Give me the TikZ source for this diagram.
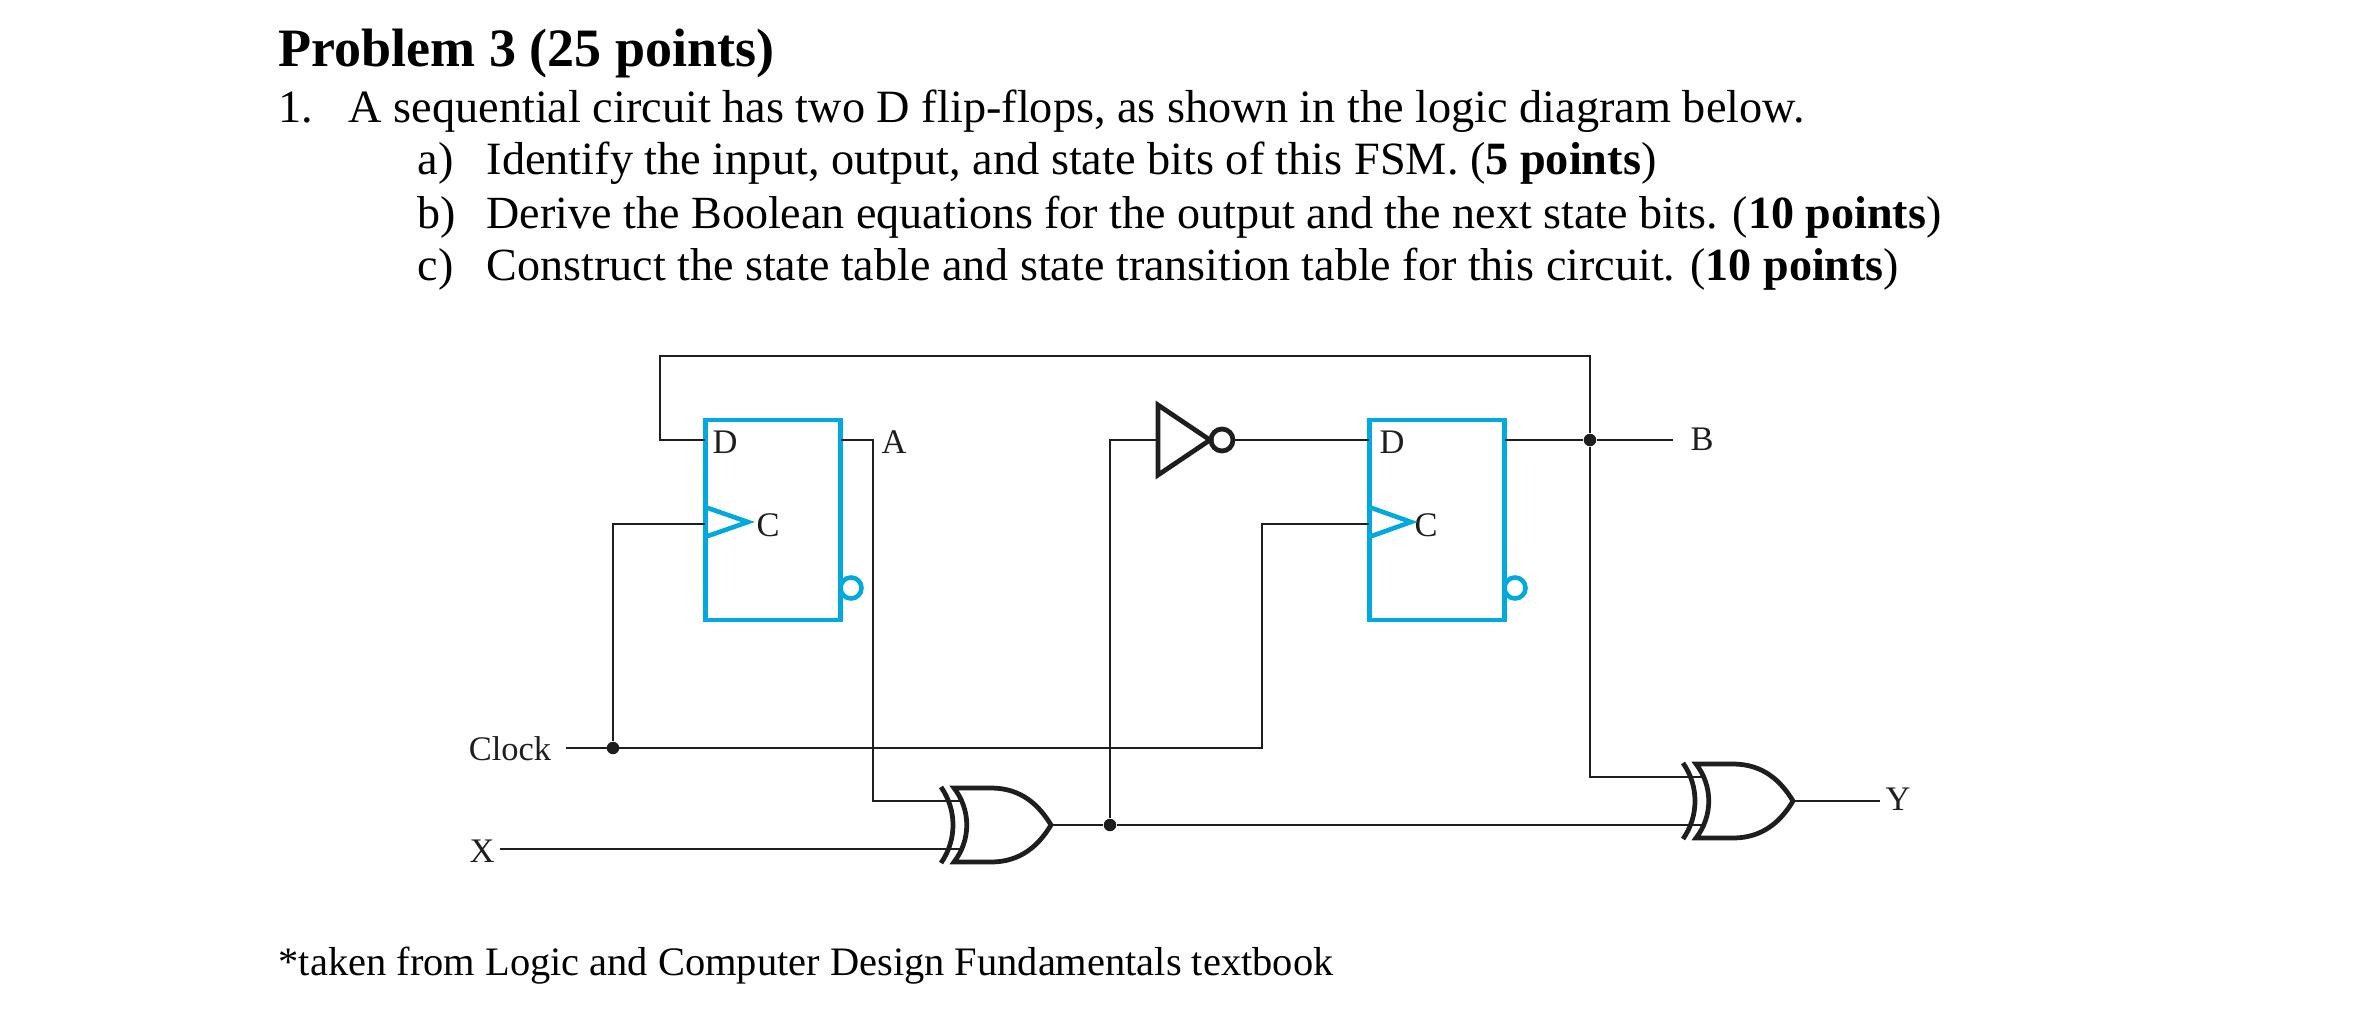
\documentclass[tikz,border=0pt]{standalone}
\usepackage{fontspec}
\setmainfont{Liberation Serif}
\definecolor{ffblue}{RGB}{0, 169, 222}
\definecolor{ink}{RGB}{30, 30, 30}
\usetikzlibrary{positioning, calc}
\tikzset{
  wire/.style={draw=ink, line width=0.7pt},
  gateline/.style={draw=ink, line width=1.35pt, fill=white},
  ffbox/.style={draw=ffblue, line width=1.3pt, fill=white, minimum width=1.35cm, minimum height=2cm, inner sep=0pt, outer sep=0pt},
  ffmark/.style={draw=ffblue, line width=1.3pt},
  ffnot/.style={circle, draw=ffblue, line width=1.3pt, fill=white, minimum size=0.21cm, inner sep=0pt},
  invbub/.style={circle, draw=ink, line width=1.35pt, fill=white, minimum size=0.22cm, inner sep=0pt, outer sep=0pt},
  jdot/.style={circle, fill=ink, minimum size=0.125cm, inner sep=0pt},
  lab/.style={font=\fontsize{9.8}{11}\selectfont, text=ink, inner sep=0pt},
  txt/.style={anchor=base west, inner sep=0pt, font=\fontsize{13.16}{15}\selectfont},
  txtb/.style={txt, font=\fontsize{13.1}{15}\selectfont},
  xorgate/.pic={
    \path[gateline] (-97,-37) -- (-60,-37) .. controls (-30,-37) and (-12,-20) .. (0,0)
      .. controls (-12,20) and (-30,37) .. (-60,37) -- (-97,37)
      .. controls (-80,15) and (-80,-15) .. (-97,-37) -- cycle;
    \draw[draw=ink, line width=1.35pt] (-110,-38) .. controls (-94,-15) and (-94,15) .. (-110,38);
    \coordinate (-in1) at (-88,-24);
    \coordinate (-in2) at (-88,24);
    \coordinate (-out) at (0,0);
  }
}

\begin{document}
\begin{tikzpicture}[x=0.01cm, y=-0.01cm]
  \useasboundingbox (0,0) rectangle (2360,1012);

  % problem text
  \node[txt, font=\fontsize{15.37}{18}\selectfont\bfseries] (title) at (278,67) {Problem 3 (25 points)};
  \node[txt] (num) at (278,122) {1.};
  \node[txt] (intro) at (348,122) {A sequential circuit has two D flip-flops, as shown in the logic diagram below.};
  \node[txt] (parta) at (417,174) {a)};
  \node[txt] (texta) at (486,174) {Identify the input, output, and state bits of this FSM. (\textbf{5 points})};
  \node[txtb] (partb) at (417,228) {b)};
  \node[txtb] (textb) at (486,228) {Derive the Boolean equations for the output and the next state bits. (\textbf{10 points})};
  \node[txtb] (partc) at (417,280) {c)};
  \node[txtb] (textc) at (486,280) {Construct the state table and state transition table for this circuit. (\textbf{10 points})};
  \node[txt, font=\fontsize{11.5}{14}\selectfont] (note) at (278,975) {*taken from Logic and Computer Design Fundamentals textbook};

  % flip-flops
  \node[ffbox] (ffA) at (773,520) {};
  \node[ffbox] (ffB) at (1437,520) {};
  \coordinate (ffAd) at (ffA.west |- 0,440);
  \coordinate (ffAc) at (ffA.west |- 0,524);
  \coordinate (ffAq) at (ffA.east |- 0,440);
  \coordinate (ffBd) at (ffB.west |- 0,440);
  \coordinate (ffBc) at (ffB.west |- 0,524);
  \coordinate (ffBq) at (ffB.east |- 0,440);

  % gates
  \pic (xorA) at (1051,825) {xorgate};
  \pic (xorB) at (1793,801) {xorgate};
  \coordinate (invIn) at (1158,440);
  \node[invbub] (invOut) at (1222,440) {};

  % labels
  \node[lab] (lblD1) at (725,442) {D};
  \node[lab] (lblC1) at (768,525) {C};
  \node[lab] (lblA) at (894,442) {A};
  \node[lab] (lblD2) at (1392,442) {D};
  \node[lab] (lblC2) at (1426,525) {C};
  \node[lab] (lblB) at (1702,439) {B};
  \node[lab] (lblClock) at (510,749) {Clock};
  \node[lab] (lblX) at (482,851) {X};
  \node[lab] (lblY) at (1898,799) {Y};

  % joints and bends
  \node[jdot] (jB) at (1590,440) {};
  \node[jdot] (jClock) at (613,748) {};
  \node[jdot] (jXor) at (1110,825) {};
  \coordinate (topLeft) at (660,356);
  \coordinate (bendA) at (873,440);
  \coordinate (bendClock) at (1262,748);

  % wires
  \draw[wire] (jB) |- (topLeft) |- (ffAd);
  \draw[wire] (ffBq) -- (jB);
  \draw[wire, shorten >=4.8pt] (jB) -- (jB -| lblB.west);
  \draw[wire] (jB) |- (xorB-in1);
  \draw[wire] (ffAq) -- (bendA) |- (xorA-in1);
  \draw[wire, shorten <=1.5pt] (lblX.east |- xorA-in2) -- (xorA-in2);
  \draw[wire, shorten <=4pt] (lblClock.east |- jClock) -- (bendClock) |- (ffBc);
  \draw[wire] (jClock) |- (ffAc);
  \draw[wire] (xorA-out) -- (jXor);
  \draw[wire] (jXor) -- (xorB-in2);
  \draw[wire] (jXor) |- (invIn);
  \draw[wire] (invOut) -- (ffBd);
  \draw[wire, shorten >=1.5pt] (xorB-out) -- (xorB-out -| lblY.west);

  \path[gateline] (invIn |- 0,405) -- (1210,440) -- (invIn |- 0,475) -- cycle;

  % clock marks and inverted outputs
  \draw[ffmark] (705,507) -- (748,522) -- (705,537);
  \draw[ffmark] (1369,507) -- (1411,522) -- (1369,537);
  \node[ffnot] (notA) at (851,588) {};
  \node[ffnot] (notB) at (1515,588) {};
\end{tikzpicture}
\end{document}
